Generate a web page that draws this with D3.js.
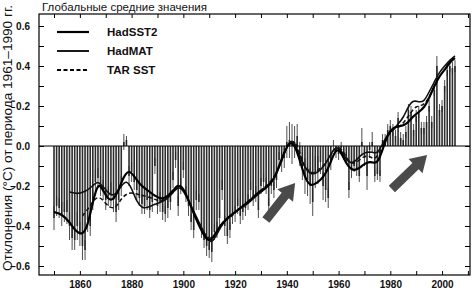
<!DOCTYPE html>
<html>
<head>
<meta charset="utf-8">
<script src="https://cdn.jsdelivr.net/npm/d3@7"></script>
<style>
  body { margin: 0; background: #fff; }
  text { font-family: Arial, "Liberation Sans", sans-serif; }
</style>
</head>
<body>
<div id="chart-area"></div>
<script>
// annual HadSST2 anomalies (bars), 1850..2005
let firstYear = 1850;
let annual = [
  -0.36,-0.30,-0.31,-0.34,-0.33,-0.33,-0.40,-0.46,-0.47,-0.40,
  -0.44,-0.50,-0.52,-0.37,-0.40,-0.27,-0.18,-0.16,-0.20,-0.22,
  -0.27,-0.25,-0.24,-0.27,-0.33,-0.27,-0.20, 0.02, 0.03,-0.15,
  -0.13,-0.18,-0.22,-0.26,-0.29,-0.30,-0.27,-0.32,-0.28,-0.10,
  -0.30,-0.28,-0.33,-0.34,-0.31,-0.28,-0.17,-0.07,-0.30,-0.20,
  -0.12,-0.24,-0.30,-0.38,-0.42,-0.27,-0.28,-0.42,-0.47,-0.50,
  -0.52,-0.53,-0.43,-0.42,-0.36,-0.22,-0.40,-0.45,-0.42,-0.35,
  -0.34,-0.30,-0.35,-0.33,-0.31,-0.28,-0.22,-0.26,-0.24,-0.32,
  -0.20,-0.18,-0.20,-0.30,-0.20,-0.22,-0.17,-0.07,-0.08,-0.06,
   0.02, 0.03, 0.01, 0.02, 0.05,-0.04,-0.10,-0.15,-0.17,-0.20,
  -0.28,-0.13,-0.12,-0.08,-0.20,-0.22,-0.26,-0.08, 0.00,-0.03,
  -0.04,-0.01,-0.04,-0.06,-0.22,-0.12,-0.10,-0.12,-0.15, 0.02,
  -0.06,-0.15,-0.02, 0.02,-0.15,-0.14,-0.15, 0.03, 0.03, 0.08,
   0.10, 0.08, 0.05, 0.14, 0.04, 0.03, 0.07, 0.18, 0.17, 0.08,
   0.15, 0.17, 0.09, 0.09, 0.12, 0.20, 0.12, 0.28, 0.40, 0.18,
   0.20, 0.30, 0.38, 0.40, 0.39, 0.40
];
// error half widths (whiskers)
let annualErr = [
  0.06,0.05,0.05,0.06,0.05,0.06,0.07,0.06,0.05,0.07,
  0.06,0.07,0.05,0.06,0.05,0.05,0.06,0.05,0.05,0.05,
  0.05,0.05,0.06,0.06,0.05,0.05,0.05,0.04,0.02,0.05,
  0.05,0.04,0.05,0.04,0.05,0.04,0.05,0.04,0.05,0.04,
  0.04,0.05,0.04,0.04,0.05,0.04,0.04,0.04,0.05,0.04,
  0.04,0.04,0.05,0.04,0.04,0.05,0.04,0.04,0.04,0.05,
  0.04,0.05,0.04,0.04,0.04,0.05,0.05,0.04,0.04,0.04,
  0.04,0.04,0.04,0.04,0.04,0.04,0.04,0.04,0.04,0.04,
  0.04,0.04,0.04,0.04,0.04,0.04,0.04,0.04,0.05,0.05,
  0.08,0.09,0.10,0.08,0.06,0.06,0.07,0.09,0.08,0.09,
  0.07,0.08,0.07,0.06,0.07,0.06,0.05,0.04,0.03,0.03,
  0.03,0.03,0.03,0.03,0.04,0.04,0.03,0.03,0.03,0.07,
  0.04,0.07,0.04,0.05,0.03,0.03,0.03,0.03,0.03,0.03,
  0.03,0.03,0.03,0.03,0.03,0.03,0.03,0.03,0.03,0.03,
  0.03,0.03,0.03,0.03,0.03,0.03,0.03,0.03,0.05,0.03,
  0.03,0.03,0.03,0.03,0.03,0.03
];

// smoothed series [year, value]
let hadSST2 = [
  [1850,-0.33],[1853,-0.34],[1856,-0.38],[1858,-0.42],[1861,-0.45],[1863,-0.40],
  [1865,-0.28],[1867,-0.18],[1869,-0.22],[1871,-0.27],[1873,-0.27],[1875,-0.22],
  [1877,-0.15],[1879,-0.12],[1881,-0.15],[1883,-0.19],[1886,-0.22],[1889,-0.25],
  [1892,-0.27],[1895,-0.24],[1898,-0.19],[1900,-0.21],[1902,-0.27],[1905,-0.37],
  [1908,-0.45],[1910,-0.48],[1912,-0.45],[1914,-0.40],[1917,-0.36],[1920,-0.33],
  [1923,-0.30],[1926,-0.27],[1929,-0.23],[1932,-0.21],[1935,-0.17],[1937,-0.10],
  [1939,-0.03],[1941,0.02],[1943,0.01],[1945,-0.07],[1947,-0.16],[1949,-0.20],
  [1951,-0.19],[1953,-0.17],[1955,-0.14],[1957,-0.08],[1959,-0.01],[1961,-0.03],
  [1963,-0.09],[1965,-0.12],[1967,-0.12],[1969,-0.10],[1971,-0.08],[1973,-0.08],
  [1975,-0.09],[1977,-0.02],[1979,0.06],[1981,0.09],[1983,0.10],[1985,0.10],
  [1987,0.12],[1989,0.15],[1991,0.17],[1993,0.19],[1995,0.24],[1997,0.30],
  [1999,0.35],[2001,0.38],[2003,0.42],[2005,0.44]
];
let hadMAT = [
  [1856,-0.23],[1859,-0.24],[1862,-0.23],[1865,-0.20],[1867,-0.17],[1870,-0.22],
  [1872,-0.25],[1874,-0.24],[1876,-0.20],[1878,-0.17],[1880,-0.21],[1882,-0.28],
  [1884,-0.31],[1886,-0.31],[1889,-0.29],[1892,-0.28],[1895,-0.25],[1898,-0.20],
  [1900,-0.22],[1903,-0.30],[1906,-0.38],[1909,-0.46],[1911,-0.49],[1913,-0.44],
  [1916,-0.37],[1919,-0.34],[1922,-0.31],[1925,-0.29],[1928,-0.25],[1931,-0.22],
  [1934,-0.19],[1937,-0.11],[1939,-0.04],[1941,0.03],[1943,0.02],[1945,-0.05],
  [1947,-0.11],[1949,-0.14],[1951,-0.14],[1953,-0.12],[1955,-0.09],[1957,-0.04],
  [1959,0.00],[1961,-0.02],[1963,-0.07],[1965,-0.09],[1967,-0.07],[1969,-0.04],
  [1971,-0.03],[1973,-0.03],[1975,-0.04],[1977,0.01],[1979,0.06],[1981,0.08],
  [1983,0.11],[1985,0.14],[1987,0.20],[1989,0.23],[1991,0.22],[1993,0.22],
  [1995,0.27],[1997,0.32],[1999,0.37],[2001,0.40],[2003,0.43],[2005,0.45]
];
let tarSST = [
  [1861,-0.35],[1864,-0.30],[1867,-0.24],[1870,-0.29],[1872,-0.31],[1874,-0.31],
  [1876,-0.26],[1879,-0.23],[1882,-0.24],[1885,-0.25],[1888,-0.26],[1891,-0.28],
  [1894,-0.26],[1897,-0.20],[1899,-0.19],[1901,-0.24],[1904,-0.33],[1907,-0.42],
  [1910,-0.47],[1912,-0.45],[1915,-0.38],[1918,-0.36],[1921,-0.32],[1924,-0.29],
  [1927,-0.26],[1930,-0.22],[1933,-0.19],[1936,-0.14],[1938,-0.07],[1940,0.00],
  [1942,0.03],[1944,0.01],[1946,-0.08],[1948,-0.12],[1950,-0.14],[1952,-0.12],
  [1954,-0.10],[1956,-0.07],[1958,-0.02],[1960,0.00],[1962,-0.03],[1964,-0.08],
  [1966,-0.09],[1968,-0.07],[1970,-0.05],[1972,-0.05],[1974,-0.07],[1976,-0.03],
  [1978,0.03],[1980,0.07],[1982,0.09],[1984,0.10],[1986,0.13],[1988,0.17],
  [1990,0.20],[1992,0.20],[1994,0.22],[1996,0.27],[1998,0.32]
];

let xTickYears = [1860, 1880, 1900, 1920, 1940, 1960, 1980, 2000];
let yTickValues = [-0.6, -0.4, -0.2, 0.0, 0.2, 0.4, 0.6];
let legendNames = ["HadSST2", "HadMAT", "TAR SST"];
// arrows: [fromYear, fromValue, toYear, toValue]
let arrows = [[1931.9, -0.37, 1943.2, -0.185], [1980.6, -0.215, 1994.2, -0.045]];

// SVG drawing area
let W = 473, H = 292;
let svg = d3.select("#chart-area").append("svg")
    .attr("width", W)
    .attr("height", H);

let pLeft = 39, pRight = 470, pTop = 14, pBottom = 275;

// Scales
let x = d3.scaleLinear().domain([1844.2, 2010.8]).range([pLeft, pRight]);
let y = d3.scaleLinear().domain([-0.645, 0.66]).range([pBottom, pTop]);

// title
svg.append("text")
    .attr("x", 42).attr("y", 11)
    .attr("font-size", 11.5)
    .attr("fill", "#111")
    .text("Глобальные средние значения");

// y label
svg.append("text")
    .attr("transform", "translate(12,138) rotate(-90)")
    .attr("text-anchor", "middle")
    .attr("font-size", 13)
    .attr("textLength", 266)
    .attr("lengthAdjust", "spacingAndGlyphs")
    .attr("fill", "#111")
    .text("Отклонения (°C) от периода 1961–1990 гг.");

// bars
let barData = annual.map((v, i) => ({year: firstYear + i, v: v, e: annualErr[i]}));

svg.append("g").selectAll("rect")
    .data(barData)
  .enter().append("rect")
    .attr("x", d => x(d.year) - 0.8)
    .attr("width", 1.6)
    .attr("y", d => y(Math.max(0, d.v)))
    .attr("height", d => Math.abs(y(d.v) - y(0)))
    .attr("fill", "#2e2e2e");

svg.append("g").selectAll("line")
    .data(barData)
  .enter().append("line")
    .attr("x1", d => x(d.year)).attr("x2", d => x(d.year))
    .attr("y1", d => y(d.v - d.e))
    .attr("y2", d => y(d.v + d.e))
    .attr("stroke", "#222")
    .attr("stroke-width", 0.8);

// zero line
svg.append("line")
    .attr("x1", pLeft).attr("x2", pRight)
    .attr("y1", y(0)).attr("y2", y(0))
    .attr("stroke", "#000").attr("stroke-width", 1.2);

// lines
let line = d3.line()
    .x(d => x(d[0]))
    .y(d => y(d[1]))
    .curve(d3.curveBasis);

svg.append("path").datum(hadMAT)
    .attr("d", line).attr("fill", "none")
    .attr("stroke", "#111").attr("stroke-width", 1.6);
svg.append("path").datum(tarSST)
    .attr("d", line).attr("fill", "none")
    .attr("stroke", "#111").attr("stroke-width", 1.5)
    .attr("stroke-dasharray", "4,2.5");
svg.append("path").datum(hadSST2)
    .attr("d", line).attr("fill", "none")
    .attr("stroke", "#000").attr("stroke-width", 2.2);

// arrows
arrows.forEach(a => {
    let x0 = x(a[0]), y0 = y(a[1]), x1 = x(a[2]), y1 = y(a[3]);
    let len = Math.hypot(x1 - x0, y1 - y0);
    let ang = Math.atan2(y1 - y0, x1 - x0) * 180 / Math.PI;
    let hl = 16, sw = 4.5, hw = 10;
    let pts = [[0, -sw], [len - hl, -sw], [len - hl, -hw], [len, 0],
               [len - hl, hw], [len - hl, sw], [0, sw]];
    svg.append("polygon")
        .attr("points", pts.map(p => p.join(",")).join(" "))
        .attr("transform", "translate(" + x0 + "," + y0 + ") rotate(" + ang + ")")
        .attr("fill", "#4a4a4a");
});

// frame
svg.append("rect")
    .attr("x", pLeft).attr("y", pTop)
    .attr("width", pRight - pLeft).attr("height", pBottom - pTop)
    .attr("fill", "none").attr("stroke", "#000").attr("stroke-width", 1.2);

// AXIS
let yAxis = d3.axisLeft(y)
    .tickValues(d3.range(-6, 7).map(d => d / 10))
    .tickSize(-5)
    .tickFormat(d => yTickValues.some(t => Math.abs(t - d) < 1e-9) ? d3.format(".1f")(d) : "")
    .tickPadding(9);
let yg = svg.append("g").attr("transform", "translate(" + pLeft + ",0)").call(yAxis);
yg.select(".domain").remove();
yg.selectAll("text").attr("font-size", 10).attr("font-weight", "bold")
    .attr("font-family", "Arial, 'Liberation Sans', sans-serif").attr("fill", "#111");

let yAxisR = d3.axisRight(y)
    .tickValues(d3.range(-6, 7).map(d => d / 10))
    .tickSize(-5).tickFormat("");
let yr = svg.append("g").attr("transform", "translate(" + pRight + ",0)").call(yAxisR);
yr.select(".domain").remove();

let xAxis = d3.axisBottom(x)
    .tickValues(d3.range(1850, 2011, 10))
    .tickSize(-4)
    .tickFormat(d => xTickYears.includes(d) ? d : "")
    .tickPadding(6);
let xg = svg.append("g").attr("transform", "translate(0," + pBottom + ")").call(xAxis);
xg.select(".domain").remove();
xg.selectAll("text").attr("font-size", 10).attr("font-weight", "bold")
    .attr("font-family", "Arial, 'Liberation Sans', sans-serif").attr("fill", "#111");

let xAxisT = d3.axisTop(x)
    .tickValues(d3.range(1850, 2011, 10))
    .tickSize(-4).tickFormat("");
let xt = svg.append("g").attr("transform", "translate(0," + pTop + ")").call(xAxisT);
xt.select(".domain").remove();

// legend
let legend = svg.append("g");
legendNames.forEach((name, i) => {
    let ly = 32 + i * 19;
    legend.append("line")
        .attr("x1", 57).attr("x2", 89)
        .attr("y1", ly).attr("y2", ly)
        .attr("stroke", "#000")
        .attr("stroke-width", i == 0 ? 2.2 : 1.8)
        .attr("stroke-dasharray", i == 2 ? "4,2.5" : null);
    legend.append("text")
        .attr("x", 107).attr("y", ly + 4)
        .attr("font-size", 11.5).attr("font-weight", "bold")
        .attr("fill", "#111")
        .text(name);
});
</script>
</body>
</html>
